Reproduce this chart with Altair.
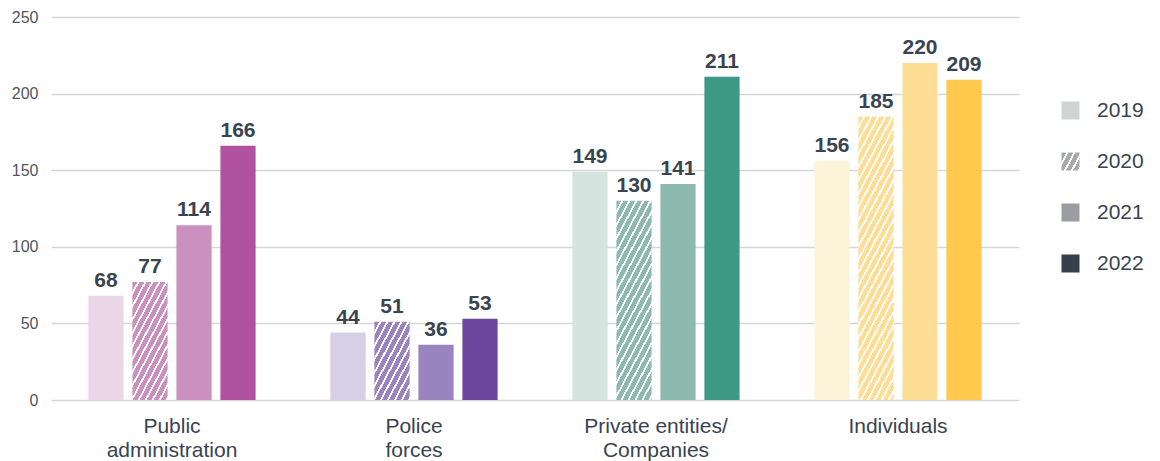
import math
import json
import altair as alt
import pandas as pd

# ---------------- data ----------------
categories = ["Public\nadministration", "Police\nforces", "Private entities/\nCompanies", "Individuals"]
years = ["2019", "2020", "2021", "2022"]
values_2019 = [68, 44, 149, 156]
values_2020 = [77, 51, 130, 185]
values_2021 = [114, 36, 141, 220]
values_2022 = [166, 53, 211, 209]

colors_2019 = ["#ebd6e8", "#d6cfe6", "#d6e4e0", "#fdf3d9"]
colors_2020 = ["#cb8fc0", "#9a83c0", "#8db9ae", "#fedd94"]
colors_2021 = ["#cb8fc0", "#9a84bf", "#8db9ae", "#fedd94"]
colors_2022 = ["#b0529f", "#6c459c", "#3d9886", "#fec94d"]

legend_colors = ["#d1d3d4", "#a8a9ad", "#9c9da2", "#363f4a"]

FONT = "Liberation Sans"
TEXT_COLOR = "#3a4350"

PLOT_W = 968
PLOT_H = 383
Y_MAX = 250

rows = []
for ci, cat in enumerate(categories):
    for yr, vals, cols in zip(years,
                              [values_2019, values_2020, values_2021, values_2022],
                              [colors_2019, colors_2020, colors_2021, colors_2022]):
        rows.append({"cat": cat, "ci": ci, "year": yr, "value": vals[ci], "color": cols[ci]})
df = pd.DataFrame(rows)

# ------------- hatch helper (diagonal stripes via a linear gradient) -------------
THETA = math.radians(62)
PERIOD_H = 7.0      # horizontal period of stripes in px
WHITE_FRAC = 0.30


def hatch(color, w, h):
    s_, c_ = math.sin(THETA), math.cos(THETA)
    length = w * s_ + h * c_
    s = length / (w * w * s_ * s_ + h * h * c_ * c_)
    a = s * w * s_
    b = s * h * c_
    period = PERIOD_H * s_ / length
    stops = []
    k = 0
    while k * period < 1:
        o0 = k * period
        o1 = min(1.0, (k + 1 - WHITE_FRAC) * period)
        o2 = min(1.0, (k + 1) * period)
        stops += [(o0, color), (o1, color), (o1, "#ffffff"), (o2, "#ffffff")]
        k += 1
    return {"gradient": "linear", "x1": 0, "y1": 0, "x2": round(a, 5), "y2": round(b, 5),
            "stops": [{"offset": round(o, 5), "color": c} for o, c in stops]}


# band geometry (used only to size the hatch pattern)
GROUP_W = PLOT_W / len(categories)
OFF_PAD_IN, OFF_PAD_OUT = 0.2, 0.85
step = GROUP_W / (len(years) - OFF_PAD_IN + 2 * OFF_PAD_OUT)
BAR_W = step * (1 - OFF_PAD_IN)

x_enc = alt.X(
    "cat:N",
    sort=categories,
    scale=alt.Scale(domain=categories, paddingInner=0, paddingOuter=0),
    axis=alt.Axis(
        title=None, domain=False, ticks=False, labelAngle=0, grid=False,
        labelFontSize=21, labelColor=TEXT_COLOR, labelFont=FONT,
        labelPadding=15, labelLineHeight=24,
        labelExpr="split(datum.value, '\\n')",
    ),
)
xoff_enc = alt.XOffset("year:N", scale=alt.Scale(domain=years, paddingInner=OFF_PAD_IN, paddingOuter=OFF_PAD_OUT))
y_enc = alt.Y(
    "value:Q",
    scale=alt.Scale(domain=[0, Y_MAX], nice=False, zero=True),
    axis=alt.Axis(
        title=None, values=[0, 50, 100, 150, 200, 250], domain=False, ticks=False,
        grid=True, gridColor="#d6d6d6", gridWidth=1.3,
        labelFontSize=16, labelColor="#50565d", labelFont=FONT, labelPadding=13,
    ),
)

base = alt.Chart(df)

solid = base.transform_filter("datum.year != '2020'").mark_bar().encode(
    x=x_enc, xOffset=xoff_enc, y=y_enc,
    fill=alt.Fill("color:N", scale=None),
)

hatched_layers = []
for ci in range(len(categories)):
    v = values_2020[ci]
    h = v * PLOT_H / Y_MAX
    grad = hatch(colors_2020[ci], BAR_W, h)
    layer = base.transform_filter(f"datum.ci == {ci} && datum.year == '2020'").mark_bar(
        fill=alt.LinearGradient(**grad)
    ).encode(x=x_enc, xOffset=xoff_enc, y=y_enc)
    hatched_layers.append(layer)

labels = base.mark_text(
    baseline="alphabetic", dy=-9, fontSize=21, fontWeight="bold",
    color=TEXT_COLOR, font=FONT,
).encode(x=x_enc, xOffset=xoff_enc, y=y_enc, text="value:Q")

legend_grad = hatch(legend_colors[1], 18, 18)
legend_map = dict(zip(years, legend_colors))
legend_fill_expr = (
    f"datum.value === '2020' ? {json.dumps(legend_grad)} : {json.dumps(legend_map)}[datum.value]"
)

legend_layer = base.transform_filter("false").mark_point(
    shape="square", size=324, opacity=1, filled=True,
    fill=alt.ExprRef(expr=legend_fill_expr),
).encode(
    shape=alt.Shape(
        "year:N",
        scale=alt.Scale(domain=years, range=["square"] * len(years)),
        legend=alt.Legend(
            title=None, orient="none", legendX=1009, legendY=83, direction="vertical",
            symbolType="square", symbolSize=324, symbolStrokeWidth=0, symbolOpacity=1,
            labelFontSize=21, labelColor=TEXT_COLOR, labelFont=FONT,
            labelOffset=16, rowPadding=29, padding=0,
        ),
    )
)

chart = alt.layer(solid, *hatched_layers, labels, legend_layer).properties(
    width=PLOT_W, height=PLOT_H,
    autosize=alt.AutoSizeParams(type="none"),
    padding={"left": 51, "top": 17, "right": 141, "bottom": 61},
    background="white",
).configure_view(stroke=None)

chart.save("out.html", embed_options={"renderer": "svg", "actions": False})
